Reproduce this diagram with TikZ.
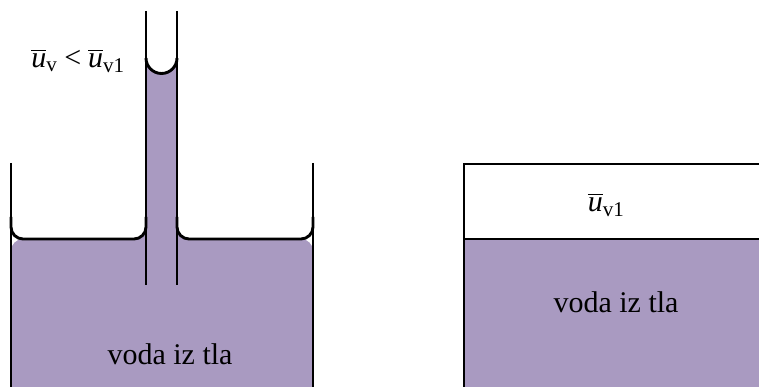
\documentclass[tikz,border=0pt]{standalone}
\usepackage{amsmath}
\usepackage{fontspec}
\setmainfont{Liberation Serif}
\definecolor{groundwater}{RGB}{169,154,193}
\newcommand{\ubar}{\overline{\text{\itshape u}}}
\begin{document}
\begin{tikzpicture}[x=1pt,y=1pt,
  wall/.style={line width=2.9pt,line cap=butt},
  water/.style={fill=groundwater},
  lbl/.style={font=\fontsize{30}{34}\selectfont,inner sep=0pt}]
\useasboundingbox (0,0) rectangle (759,387);

% --- left vessel with capillary tube ---
\fill[water] (11,0) [rounded corners=12pt] -- (11,148) -- (146,148) [sharp corners] -- (146,329)
  arc[start angle=180,end angle=360,radius=15.5] -- (177,329) [rounded corners=12pt] -- (177,148) -- (313,148) [sharp corners] -- (313,0) -- cycle;

\coordinate (lwTop) at (11,224);
\coordinate (lwBot) at (11,0);
\coordinate (rwTop) at (313,224);
\coordinate (rwBot) at (313,0);
\draw[wall] (lwTop) -- (lwBot);
\draw[wall] (rwTop) -- (rwBot);
% meniscus of the outer water surface
\draw[wall,rounded corners=12pt] (11,170) -- (11,148) -- (146,148) -- (146,170);
\draw[wall,rounded corners=12pt] (177,170) -- (177,148) -- (313,148) -- (313,170);
% capillary tube walls and the meniscus inside
\coordinate (tlTop) at (146,376);
\coordinate (tlBot) at (146,102);
\coordinate (trTop) at (177,376);
\coordinate (trBot) at (177,102);
\draw[wall] (tlTop) -- (tlBot);
\draw[wall] (trTop) -- (trBot);
\draw[wall] (146,329) arc[start angle=180,end angle=360,radius=15.5];

\node[lbl] (cap) at (78,326) {$\ubar_{\text{v}} \mathrel{\text{<}} \ubar_{\text{v1}}$};
\node[lbl] (soilL) at (170,33) {voda iz tla};

% --- right vessel ---
\fill[water] (464,0) rectangle (760,148);
\coordinate (bwTop) at (464,223);
\coordinate (bwBot) at (464,0);
\draw[wall] (bwBot) -- (bwTop) -- (760,223);
\draw[wall] (464,148) -- (760,148);
\node[lbl] (airR) at (606,182) {$\ubar_{\text{v1}}$};
\node[lbl] (soilR) at (616,85) {voda iz tla};
\end{tikzpicture}
\end{document}
